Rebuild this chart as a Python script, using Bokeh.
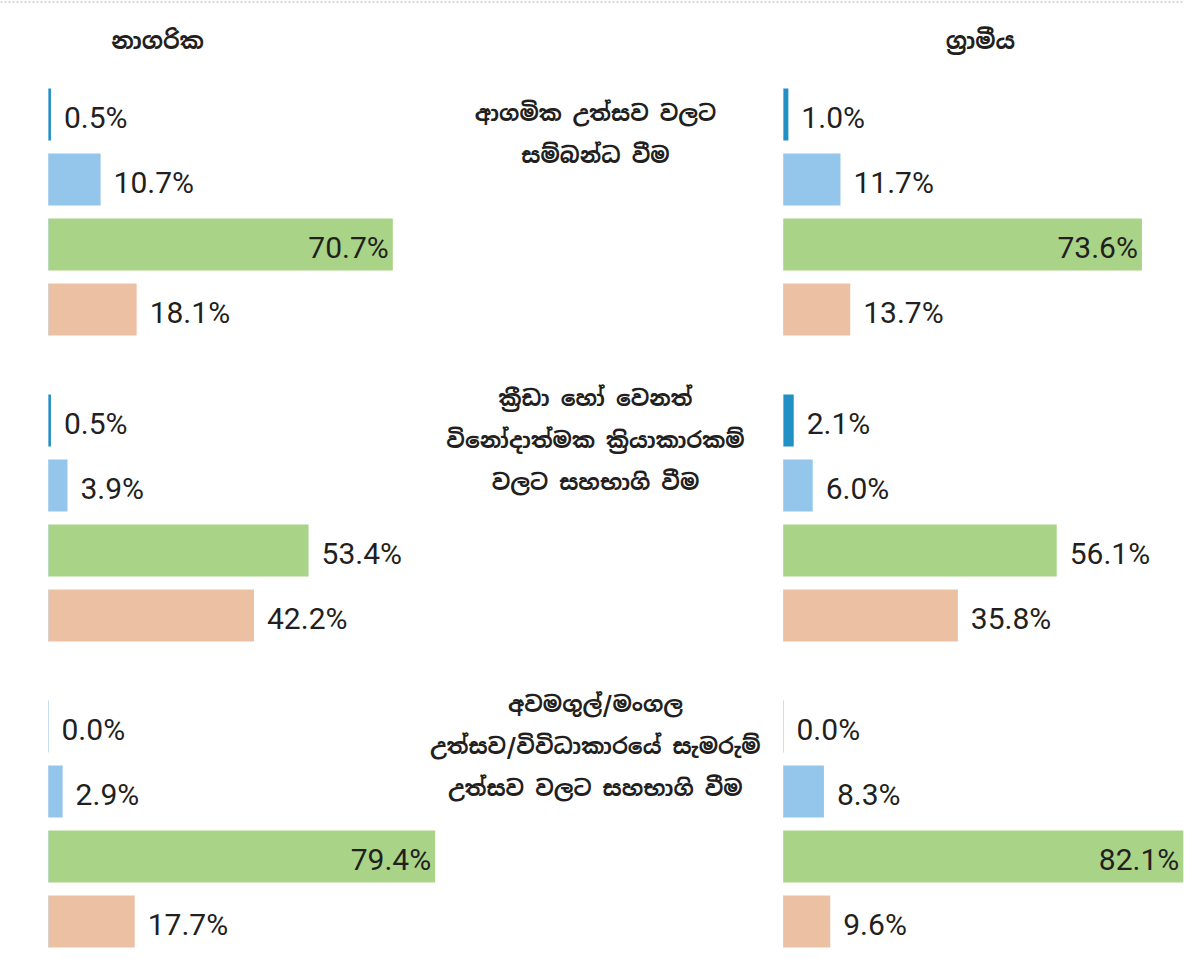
from bokeh.plotting import figure
from bokeh.models import Range1d, Span, ColumnDataSource
from bokeh.core.properties import value
from bokeh.embed import file_html
from bokeh.resources import INLINE

# ---------------- data ----------------
panel_titles = ["නාගරික", "ග්\u200dරාමීය"]
activities = [
    "ආගමික උත්සව වලට\nසම්බන්ධ වීම",
    "ක්\u200dරීඩා හෝ වෙනත්\nවිනෝදාත්මක ක්\u200dරියාකාරකම්\nවලට සහභාගි වීම",
    "අවමගුල්/මංගල\nඋත්සව/විවිධාකාරයේ සැමරුම්\nඋත්සව වලට සහභාගි වීම",
]
urban = [
    [0.5, 10.7, 70.7, 18.1],
    [0.5, 3.9, 53.4, 42.2],
    [0.0, 2.9, 79.4, 17.7],
]
rural = [
    [1.0, 11.7, 73.6, 13.7],
    [2.1, 6.0, 56.1, 35.8],
    [0.0, 8.3, 82.1, 9.6],
]
colors = ["#2190c4", "#93c6ea", "#a9d386", "#ecc1a3"]

# ---------------- geometry ----------------
W, H = 1184, 951
PX = 4.87              # pixels per percent
X0 = 48                # canvas px of left panel baseline
RIGHT = 735 / PX       # offset of the right panel in percent units
ROW = 65.0             # pixels per bar row
Y0 = 114.0             # canvas px of first row centre
GROUP = 306 / ROW      # rows per group
BAR_H = 52 / ROW


def cx(px):
    return (px - X0) / PX


def cy(px):
    return (px - Y0) / ROW


p = figure(width=W, height=H, output_backend="svg", toolbar_location=None,
           x_range=Range1d(cx(0), cx(W)),
           y_range=Range1d(cy(H), cy(0)),
           min_border=0)
p.axis.visible = False
p.grid.visible = False
p.outline_line_color = None
p.background_fill_color = "white"
p.border_fill_color = "white"

# top dotted rule
p.add_layout(Span(location=cy(1.5), dimension="width",
                  line_color="#b0b0b0", line_dash="2 2", line_width=1))

ys, lefts, rights, fills = [], [], [], []
lx, ly, lt, lalign, loff = [], [], [], [], []
for pi, panel in enumerate([urban, rural]):
    off = 0 if pi == 0 else RIGHT
    for g, vals in enumerate(panel):
        for i, v in enumerate(vals):
            y = g * GROUP + i
            ys.append(y)
            lefts.append(off)
            rights.append(off + v)
            fills.append(colors[i])
            lt.append(f"{v:.1f}%")
            ly.append(y)
            lx.append(off + v)
            if v > 60:
                lalign.append("right")
                loff.append(-4)
            else:
                lalign.append("left")
                loff.append(13)

# faint baseline markers (visible where a value is zero)
p.segment(x0=lefts, x1=lefts, y0=[y - BAR_H / 2 for y in ys],
          y1=[y + BAR_H / 2 for y in ys], line_color="#c9dff0", line_width=1)

p.hbar(y=ys, left=lefts, right=rights, height=BAR_H, fill_color=fills,
       line_color=None)

src = ColumnDataSource(dict(x=lx, y=ly, t=lt, a=lalign, o=loff))
p.text(x="x", y="y", text="t", text_align="a", x_offset="o", y_offset=3,
       text_baseline="middle", source=src,
       text_font=value("Roboto"), text_font_size="30px",
       text_color="#231f20")

sin_font = value("Noto Sans Sinhala, Noto Sans, sans-serif")

# panel titles
p.text(x=[cx(157), cx(980)], y=[cy(40)] * 2, text=panel_titles,
       text_align="center", text_baseline="middle",
       text_font=sin_font, text_font_style="bold", text_font_size="23px",
       text_color="#231f20")

# activity labels
p.text(x=[cx(595)] * 3, y=[g * GROUP + 0.3 for g in range(3)],
       text=activities, text_align="center", text_baseline="middle",
       text_line_height=1.5,
       text_font=sin_font, text_font_style="bold", text_font_size="22px",
       text_color="#231f20")

open("out.html", "w").write(file_html(p, INLINE))
